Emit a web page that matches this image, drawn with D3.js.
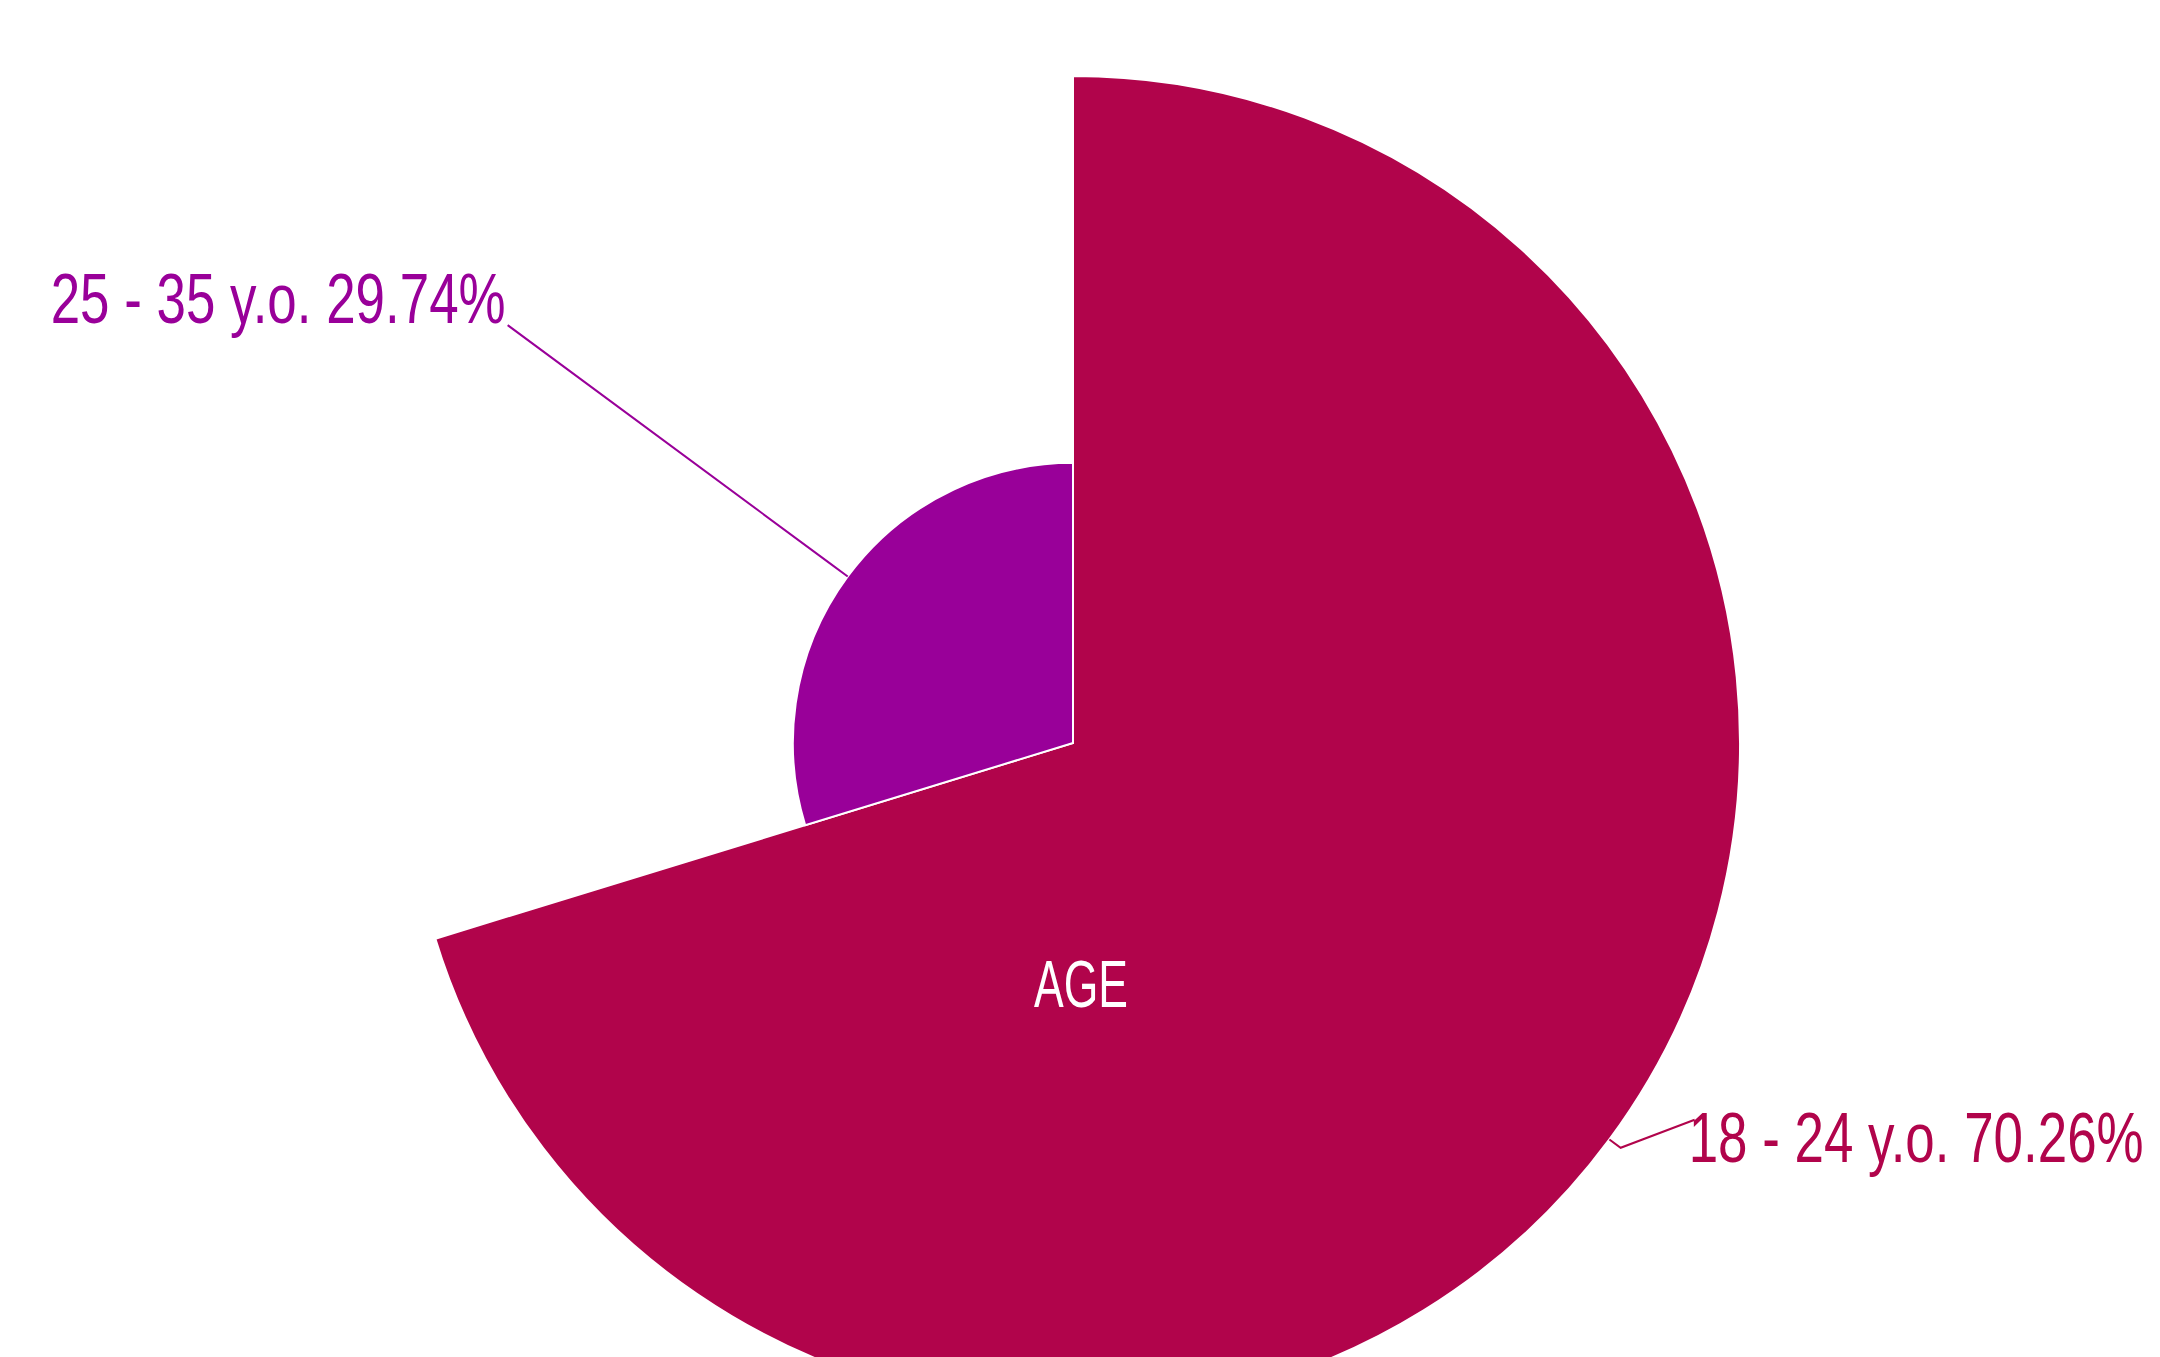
<!DOCTYPE html>
<meta charset="utf-8">
<style>
  body {
    margin: 0;
    background: #ffffff;
    font-family: "Liberation Sans", Arial, sans-serif;
  }
  .slice path {
    stroke: #ffffff;
    stroke-width: 2;
  }
  .label {
    font-size: 70px;
  }
  .leader {
    fill: none;
    stroke-width: 2;
  }
  .title {
    fill: #ffffff;
    font-size: 67px;
  }
</style>
<body>
<script src="https://d3js.org/d3.v7.min.js"></script>
<script>
var groups = ["18 - 24 y.o.", "25 - 35 y.o."];
var shares = [70.26, 29.74];
var colors = ["#b1044b", "#990099"];
// variable radius: each slice has its own depth
var depth = [1, 0.42];

var width = 2160,
    height = 1357,
    cx = 1073,
    cy = 743,
    radius = 667;

var data = groups.map(function(g, i) {
  return { group: g, value: shares[i], color: colors[i], depth: depth[i] };
});

var r = d3.scaleLinear()
    .domain([0, 1])
    .range([0, radius]);

var pie = d3.pie()
    .sort(null)
    .value(function(d) { return d.value; });

var arc = d3.arc()
    .innerRadius(0)
    .outerRadius(function(d) { return r(d.data.depth); });

var svg = d3.select("body").append("svg")
    .attr("width", width)
    .attr("height", height)
    .append("g")
    .attr("transform", "translate(" + cx + "," + cy + ")");

var arcs = pie(data);

svg.selectAll("g.slice")
    .data(arcs)
    .enter()
    .append("g")
    .attr("class", "slice")
    .append("path")
    .attr("d", arc)
    .style("fill", function(d) { return d.data.color; });

function polar(a, rad) {
  return [Math.sin(a) * rad, -Math.cos(a) * rad];
}

// labels + leader lines
arcs.forEach(function(d) {
  var mid = (d.startAngle + d.endAngle) / 2;
  var rOut = r(d.data.depth);
  var p0 = polar(mid, rOut),
      p1, p2, tx, ty, anchor;
  var text = d.data.group + " " + d.data.value.toFixed(2) + "%";

  if (Math.sin(mid) < 0) {
    // left side: straight radial line out to the label end
    p1 = polar(mid, rOut + 20);
    p2 = polar(mid, 703);
    tx = p2[0] - 2;
    ty = p2[1] - 2;
    anchor = "end";
  } else {
    p1 = polar(mid, rOut + 14);
    p2 = [p1[0] + 74, p1[1] - 28];
    tx = p2[0] - 6;
    ty = p2[1] + 42;
    anchor = "start";
  }

  svg.append("polyline")
      .attr("class", "leader")
      .attr("points", [p0, p1, p2].map(function(p) { return p.join(","); }).join(" "))
      .style("stroke", d.data.color);

  // the original face is a narrow one, squeeze to the same width
  svg.append("text")
      .attr("class", "label")
      .attr("x", tx)
      .attr("y", ty)
      .attr("text-anchor", anchor)
      .attr("textLength", 455)
      .attr("lengthAdjust", "spacingAndGlyphs")
      .style("fill", d.data.color)
      .text(text);
});

svg.append("text")
    .attr("class", "title")
    .attr("x", 8)
    .attr("y", 264)
    .attr("text-anchor", "middle")
    .attr("textLength", 94)
    .attr("lengthAdjust", "spacingAndGlyphs")
    .text("AGE");
</script>
